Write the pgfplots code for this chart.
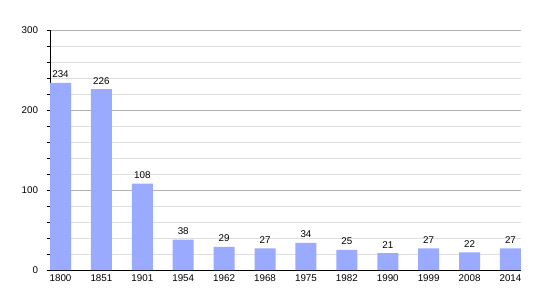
\documentclass[border=0pt]{standalone}
\usepackage{pgfplots}
\pgfplotsset{compat=1.18}
\usepackage{fontspec}
\setmainfont{Liberation Sans}
\definecolor{barblue}{RGB}{153,170,255}
\definecolor{majgrid}{RGB}{178,178,178}
\definecolor{mingrid}{RGB}{222,222,222}
\begin{document}
\begin{tikzpicture}
\begin{axis}[
  scale only axis,
  width=471bp, height=240bp,
  xmin=-0.257, xmax=11.257,
  ymin=0, ymax=300,
  axis x line*=bottom,
  axis y line*=left,
  axis line style={black, line width=0.9bp},
  xtick={0,...,11},
  xticklabels={1800,1851,1901,1954,1962,1968,1975,1982,1990,1999,2008,2014},
  x tick style={draw=none},
  ytick={0,100,200,300},
  minor ytick={20,40,60,80,120,140,160,180,220,240,260,280},
  ymajorgrids, yminorgrids,
  major grid style={majgrid, line width=0.7bp},
  minor grid style={mingrid, line width=0.7bp},
  tick style={black, line width=0.7bp},
  major tick length=3bp, minor tick length=3bp,
  ytick align=outside, tick pos=left,
  tick label style={font=\fontsize{9.8bp}{11bp}\selectfont},
  /pgf/number format/assume math mode=true,
  yticklabel style={xshift=-5.5bp},
  xticklabel style={yshift=-1bp},
  nodes near coords,
  nodes near coords style={font=\fontsize{9.8bp}{11bp}\selectfont, black, yshift=1.5bp},
  clip=false,
]
\addplot[ybar, bar width=0.513, fill=barblue, draw=none, bar shift=0pt] coordinates {
(0,234) (1,226) (2,108) (3,38) (4,29) (5,27) (6,34) (7,25) (8,21) (9,27) (10,22) (11,27)
};
\end{axis}
\path (current axis.south west) ++(-50bp,-30bp) rectangle ++(550bp,300bp);
\end{tikzpicture}
\end{document}
